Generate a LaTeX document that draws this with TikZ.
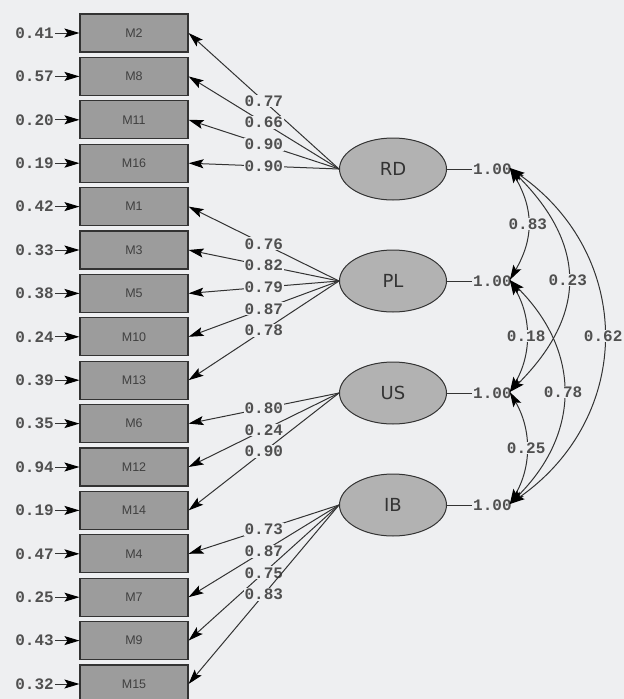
\documentclass[tikz,border=0pt]{standalone}
\usepackage{fontspec}
\setmainfont{Liberation Sans}
\newfontfamily\monofnt{Liberation Mono}
\newfontfamily\dejafnt{DejaVu Sans}
\usetikzlibrary{arrows.meta,shapes.geometric}
\definecolor{bgc}{HTML}{EEEFF1}
\definecolor{boxc}{HTML}{9C9C9C}
\definecolor{ellc}{HTML}{B2B2B2}
\definecolor{txtc}{HTML}{505050}
\definecolor{linec}{HTML}{333333}
\tikzset{mytip/.tip={Stealth[length=15pt,width=9pt,inset=3pt,color=black]}}
\begin{document}
\begin{tikzpicture}[x=1pt,y=-1pt,
  obs/.style={draw=linec, line width=1.1pt, fill=boxc, minimum width=108pt, minimum height=38pt, inner sep=0pt, font=\fontsize{12.5}{12.5}\selectfont, text=black!75},
  lat/.style={ellipse, draw=linec, line width=1pt, fill=ellc, minimum width=107pt, minimum height=62pt, inner sep=0pt, font=\dejafnt\fontsize{18}{18}\selectfont, text=black!80},
  num/.style={font=\monofnt\bfseries\fontsize{16}{16}\selectfont, text=txtc, inner sep=1pt},
  lab/.style={num, fill=bgc},
  arr/.style={draw=linec, line width=1pt, -mytip},
  cov/.style={draw=linec, line width=1pt, mytip-mytip},
  vline/.style={draw=linec, line width=0.8pt}
]
\fill[bgc] (0,0) rectangle (624,699);
\useasboundingbox (0,0) rectangle (624,699);

% observed variables with residuals
\foreach \n/\r [count=\i from 0] in {M2/0.41,M8/0.57,M11/0.20,M16/0.19,M1/0.42,M3/0.33,M5/0.38,M10/0.24,M13/0.39,M6/0.35,M12/0.94,M14/0.19,M4/0.47,M7/0.25,M9/0.43,M15/0.32}{
  \node[obs] (\n) at (134,{33+43.4*\i}) {\n};
  \node[num, anchor=east] (e\n) at (55,{33+43.4*\i}) {\r};
  \draw[arr] (e\n) -- (\n.west);
}

% latent variables
\node[lat] (RD) at (393,169) {RD};
\node[lat] (PL) at (393,281) {PL};
\node[lat] (US) at (393,393) {US};
\node[lat] (IB) at (393,505) {IB};

% variances
\foreach \l in {RD,PL,US,IB}{
  \node[num, anchor=west] (v\l) at ([xshift=25pt]\l.east) {1.00};
  \draw[vline] (\l.east) -- (v\l.west);
  \coordinate (c\l) at ([xshift=-3pt,yshift=1pt]v\l.east);
}

% loadings
\foreach \n/\v in {M2/0.77,M8/0.66,M11/0.90,M16/0.90}{
  \draw[arr] (RD.west) -- node[lab]{\v} (\n.east);
}
\foreach \n/\v in {M1/0.76,M3/0.82,M5/0.79,M10/0.87,M13/0.78}{
  \draw[arr] (PL.west) -- node[lab]{\v} (\n.east);
}
\foreach \n/\v in {M6/0.80,M12/0.24,M14/0.90}{
  \draw[arr] (US.west) -- node[lab]{\v} (\n.east);
}
\foreach \n/\v in {M4/0.73,M7/0.87,M9/0.75,M15/0.83}{
  \draw[arr] (IB.west) -- node[lab]{\v} (\n.east);
}

% covariances
\draw[cov] (cRD) to[out=-60,in=60,looseness=1.1] node[lab]{0.83} (cPL);
\draw[cov] (cPL) to[out=-60,in=60,looseness=1.0] node[lab]{0.18} (cUS);
\draw[cov] (cUS) to[out=-60,in=60,looseness=1.0] node[lab]{0.25} (cIB);
\draw[cov] (cRD) to[out=-45,in=45,looseness=1.25] node[lab]{0.23} (cUS);
\draw[cov] (cPL) to[out=-45,in=45,looseness=1.15] node[lab]{0.78} (cIB);
\draw[cov] (cRD) to[out=-35,in=35,looseness=1.16] node[lab]{0.62} (cIB);
\end{tikzpicture}
\end{document}
